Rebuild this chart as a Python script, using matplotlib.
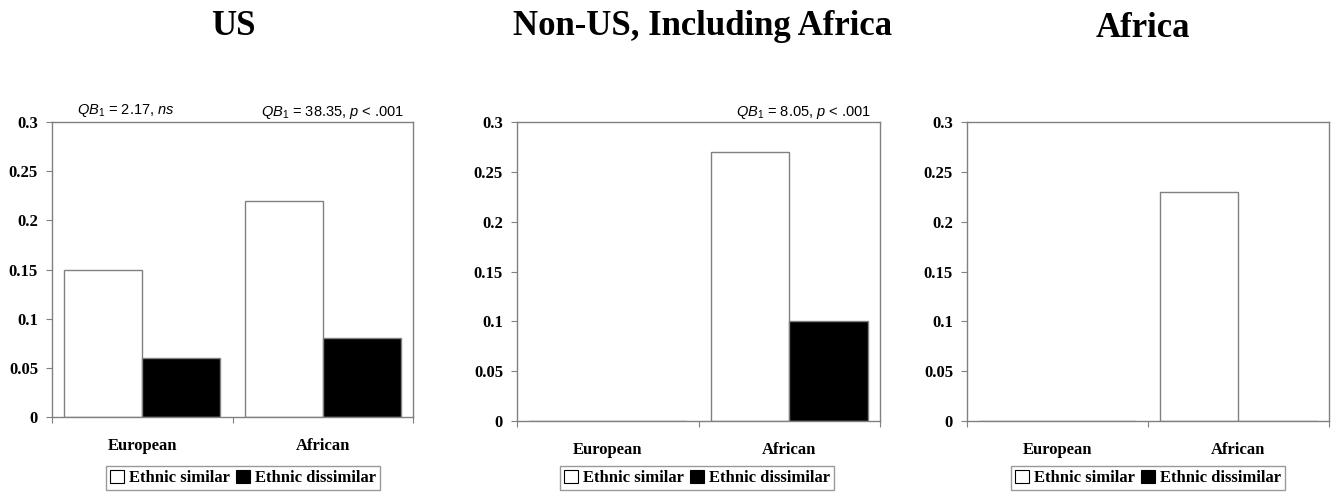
import matplotlib
matplotlib.use("Agg")
import matplotlib.pyplot as plt
from matplotlib.patches import Patch

plt.rcParams["mathtext.fontset"] = "custom"
plt.rcParams["mathtext.rm"] = "Liberation Sans"
plt.rcParams["mathtext.it"] = "Liberation Sans:italic"

categories = ["European", "African"]
series_names = ["Ethnic similar", "Ethnic dissimilar"]
yticks = [0, 0.05, 0.1, 0.15, 0.2, 0.25, 0.3]
ytick_labels = ["0", "0.05", "0.1", "0.15", "0.2", "0.25", "0.3"]

titles = ["US", "Non-US, Including Africa", "Africa"]
similar = [[0.15, 0.22], [0.0, 0.27], [0.0, 0.23]]
dissimilar = [[0.06, 0.08], [0.0, 0.10], [0.0, 0.0]]
annotations = [
    [(0, r"$QB_1$ = 2.17, $ns$"), (1, r"$QB_1$ = 38.35, $p$ < .001")],
    [(1, r"$QB_1$ = 8.05, $p$ < .001")],
    [],
]

W, H = 1332, 494
fig = plt.figure(figsize=(W / 100, H / 100), dpi=100)

# axes boxes in pixels: left, right, top, bottom
boxes = [(52, 413, 122, 417), (517, 880, 122, 421), (967, 1329, 122, 421)]
title_pos = [(233, 35), (703, 35), (1143, 37)]
legend_x = [243, 697, 1148]
gray = "#808080"
serif = "Liberation Serif"

bar_w = 0.433
for i, (l, r, t, b) in enumerate(boxes):
    ax = fig.add_axes([l / W, (H - b) / H, (r - l) / W, (b - t) / H])
    x = [0.5, 1.5]
    ax.bar([c - bar_w / 2 for c in x], similar[i], width=bar_w,
           color="white", edgecolor=gray, linewidth=1.0)
    ax.bar([c + bar_w / 2 for c in x], dissimilar[i], width=bar_w,
           color="black", edgecolor=gray, linewidth=1.0)
    ax.set_xlim(0, 2)
    ax.set_ylim(0, 0.3)
    ax.set_yticks(yticks)
    ax.set_yticklabels(ytick_labels, fontfamily=serif, fontweight="bold",
                       fontsize=12)
    ax.tick_params(axis="y", direction="out", length=4, color=gray, pad=6)
    ax.set_xticks([0, 1, 2])
    ax.set_xticklabels([])
    ax.set_xticks(x, minor=True)
    ax.set_xticklabels(categories, minor=True, fontfamily=serif,
                       fontweight="bold", fontsize=12)
    ax.tick_params(axis="x", which="major", direction="out", length=4,
                   color=gray)
    ax.tick_params(axis="x", which="minor", length=0, pad=15)
    for s in ax.spines.values():
        s.set_color(gray)
        s.set_linewidth(1.0)

    for cat, txt in annotations[i]:
        if cat == 0:
            ax.text(0.14, 0.303, txt, ha="left", va="bottom", fontsize=10.5,
                    fontfamily="Liberation Sans")
        else:
            ax.text(1.95, 0.301, txt, ha="right", va="bottom", fontsize=10.5,
                    fontfamily="Liberation Sans")

    tx, ty = title_pos[i]
    fig.text(tx / W, 1 - ty / H, titles[i], ha="center", va="baseline",
             fontfamily=serif, fontweight="bold", fontsize=25)

    handles = [Patch(facecolor="white", edgecolor="black", linewidth=0.8),
               Patch(facecolor="black", edgecolor="black", linewidth=0.8)]
    leg = fig.legend(handles, series_names, loc="center",
                     bbox_to_anchor=(legend_x[i] / W, 1 - 478 / H),
                     ncol=2, frameon=True, fancybox=False,
                     handlelength=0.8, handleheight=0.8, handletextpad=0.3,
                     columnspacing=0.4, borderpad=0.25, borderaxespad=0,
                     prop={"family": serif, "weight": "bold", "size": 12})
    leg.get_frame().set_edgecolor(gray)
    leg.get_frame().set_linewidth(1.0)

fig.savefig("out.png", dpi=100, facecolor="white")
